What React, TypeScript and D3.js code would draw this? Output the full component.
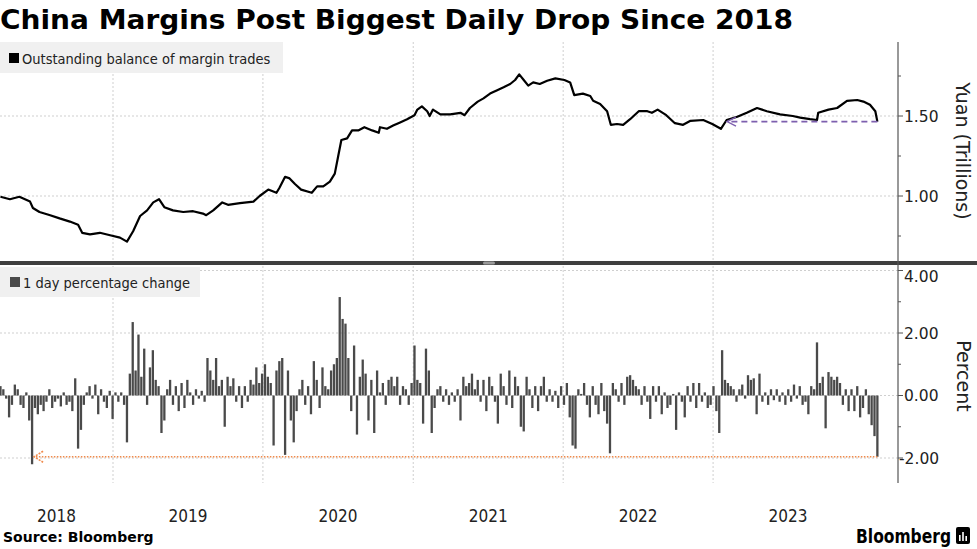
import React from 'react';
import * as d3 from 'd3';

// outstanding margin balance, trillion yuan
const balanceDates = [
  '2018-04-02', '2018-04-25', '2018-05-18', '2018-06-13', '2018-06-20', '2018-07-06', '2018-08-01', '2018-08-24',
  '2018-09-18', '2018-10-08', '2018-10-18', '2018-11-06', '2018-11-30', '2018-12-25', '2019-01-18', '2019-02-04',
  '2019-02-19', '2019-03-08', '2019-03-25', '2019-04-09', '2019-04-23', '2019-05-06', '2019-05-27', '2019-06-21',
  '2019-07-15', '2019-08-08', '2019-08-16', '2019-09-02', '2019-09-24', '2019-10-08', '2019-11-06', '2019-12-09',
  '2019-12-24', '2020-01-14', '2020-02-03', '2020-02-10', '2020-02-24', '2020-03-06', '2020-03-19', '2020-04-03',
  '2020-04-29', '2020-05-12', '2020-05-27', '2020-06-12', '2020-06-24', '2020-07-02', '2020-07-10', '2020-07-24',
  '2020-08-05', '2020-08-20', '2020-09-04', '2020-09-23', '2020-10-09', '2020-10-12', '2020-10-29', '2020-11-13',
  '2020-11-30', '2020-12-17', '2021-01-04', '2021-01-11', '2021-01-22', '2021-02-04', '2021-02-10', '2021-02-18',
  '2021-03-08', '2021-04-01', '2021-04-26', '2021-05-06', '2021-05-19', '2021-06-07', '2021-06-21', '2021-07-07',
  '2021-07-23', '2021-08-09', '2021-08-25', '2021-09-06', '2021-09-16', '2021-09-27', '2021-10-08', '2021-10-20',
  '2021-11-05', '2021-11-23', '2021-12-13', '2022-01-04', '2022-01-18', '2022-01-28', '2022-02-18', '2022-03-08',
  '2022-03-15', '2022-04-01', '2022-04-18', '2022-04-27', '2022-05-12', '2022-05-27', '2022-06-13', '2022-07-04',
  '2022-07-25', '2022-08-05', '2022-08-19', '2022-09-09', '2022-09-30', '2022-10-20', '2022-11-07', '2022-12-08',
  '2022-12-30', '2023-01-20', '2023-02-03', '2023-03-01', '2023-03-24', '2023-04-18', '2023-05-12', '2023-06-13',
  '2023-07-14', '2023-08-01', '2023-08-25', '2023-09-11', '2023-09-14', '2023-10-09', '2023-10-30', '2023-11-23',
  '2023-12-18', '2024-01-02', '2024-01-18', '2024-01-31', '2024-02-05',
];
const balanceValues = [
  0.995, 0.98, 0.995, 0.965, 0.925, 0.9, 0.88, 0.86,
  0.84, 0.82, 0.77, 0.76, 0.77, 0.755, 0.74, 0.715,
  0.78, 0.875, 0.91, 0.96, 0.98, 0.93, 0.91, 0.9,
  0.905, 0.89, 0.88, 0.91, 0.96, 0.945, 0.955, 0.965,
  1.0, 1.04, 1.02, 1.05, 1.12, 1.11, 1.075, 1.04,
  1.02, 1.06, 1.06, 1.09, 1.14, 1.245, 1.35, 1.36,
  1.41, 1.41, 1.43, 1.41, 1.395, 1.43, 1.42, 1.44,
  1.46, 1.48, 1.505, 1.54, 1.56, 1.53, 1.5, 1.54,
  1.51, 1.51, 1.52, 1.505, 1.55, 1.59, 1.61, 1.64,
  1.66, 1.68, 1.7, 1.725, 1.76, 1.725, 1.69, 1.71,
  1.7, 1.72, 1.735, 1.725, 1.71, 1.63, 1.64, 1.625,
  1.595, 1.575, 1.53, 1.445, 1.45, 1.445, 1.48, 1.53,
  1.53, 1.52, 1.54, 1.505, 1.455, 1.445, 1.47, 1.475,
  1.45, 1.42, 1.475, 1.495, 1.52, 1.55, 1.53, 1.51,
  1.5, 1.49, 1.48, 1.475, 1.52, 1.54, 1.55, 1.595,
  1.6, 1.59, 1.57, 1.53, 1.465,
];

// 1 day percentage change, one reading per week from the first date
const changeStart = '2018-04-02';
const changeValues = [
  0.3, 0.2, -0.1, -0.7, -0.3, 0.35, 0.2, -0.3, -0.4, 0.1,
  -0.8, -2.2, -0.4, -0.6, -0.3, -0.5, -0.2, 0.2, -0.4, -0.2,
  -0.1, -0.35, 0.1, -0.3, -0.2, -0.5, 0.55, -1.7, -1.1, -0.3,
  0.1, 0.3, -0.1, 0.35, -0.6, 0.2, -0.2, -0.4, 0.15, -0.75,
  0.1, -0.2, 0.1, -0.3, -1.5, 0.7, 2.35, 0.8, 1.95, 0.6,
  1.5, -0.3, 0.9, 1.45, 0.5, 0.3, -1.2, -0.8, 0.2, 0.5,
  -0.3, 0.3, -0.5, 0.4, -0.4, 0.5, 0.1, -0.3, 0.2, -0.1,
  0.15, -0.2, 1.2, 0.8, 0.5, 1.2, 0.3, 0.5, -1.0, 0.6,
  0.3, 0.55, -0.2, 0.3, -0.4, 0.3, -0.2, 0.5, 0.35, 0.9,
  0.4, 0.7, 1.0, 0.6, 0.4, -1.6, 0.8, 1.1, 1.2, -1.9,
  0.8, -0.8, -1.5, -0.5, 0.2, 0.5, -0.3, 0.3, -0.6, 1.1,
  0.5, -0.4, 0.9, 0.3, 0.2, 0.8, 1.0, 1.2, 3.15, 2.45,
  2.3, 1.2, -0.5, 1.6, -1.25, 0.6, 1.15, 0.7, -0.8, 0.5,
  -1.2, 0.8, 0.1, 0.4, -0.3, 0.5, 0.6, 0.3, 0.6, -0.3,
  0.3, 0.2, -0.3, 0.4, 1.6, 0.5, 0.4, -0.9, 1.5, 0.8,
  -1.2, -0.4, 0.2, 0.3, -0.2, 0.2, -0.3, 0.1, -0.2, 0.2,
  -0.8, 0.6, 0.3, 0.4, 0.7, 0.2, 0.5, -0.2, 0.5, -0.5,
  0.6, 0.3, -0.2, -0.9, 0.7, 0.3, -0.3, 0.8, -0.4, 0.6,
  0.3, -1.0, -1.15, 0.6, 0.2, -0.4, 0.3, -0.5, 0.3, 0.6,
  -0.2, 0.2, -0.2, 0.15, -0.4, 0.3, -0.3, 0.4, -0.7, -1.6,
  -1.7, 0.2, 0.05, 0.4, -0.3, -0.7, 0.3, -0.3, -0.6, 0.4,
  -0.5, -0.9, -1.85, 0.4, 0.2, -0.2, 0.4, -0.3, 0.6, 0.65,
  0.5, 0.3, 0.2, -0.3, 0.3, -0.2, -0.75, 0.3, -0.2, 0.3,
  -0.6, 0.1, -0.4, -0.3, 0.05, -1.1, 0.1, -0.2, -0.7, 0.3,
  -0.2, 0.4, -0.4, 0.4, -0.2, 0.1, -0.4, -0.3, 0.3, -0.5,
  -1.2, 1.45, 0.5, 0.4, 0.3, 0.2, -0.2, 0.2, 0.35, -0.1,
  0.65, 0.5, 0.55, -0.6, 0.7, -0.2, 0.1, -0.3, 0.2, -0.15,
  0.2, -0.2, 0.1, -0.3, 0.2, -0.2, 0.35, -0.1, 0.3, -0.3,
  -0.2, -0.6, 0.3, 0.2, 1.7, 0.4, 0.6, -1.05, 0.75, 0.6,
  0.5, 0.6, 0.4, -0.3, 0.2, -0.5, 0.2, -0.5, 0.3, -0.7,
  -0.4, 0.2, -0.6, -0.95, -1.3, -1.96,
];

const yearLabels = ['2018', '2019', '2020', '2021', '2022', '2023'];
const balanceTicks = [1.0, 1.5];
const balanceMinorTicks = [0.75, 1.25, 1.75];
const changeTicks = [4, 2, 0, -2];
const changeMinorTicks = [3, 1, -1];

const W = 977;
const H = 549;
const AXIS_X = 898;
const SANS = "'DejaVu Sans', sans-serif";
const COND = "'DejaVu Sans Condensed', 'DejaVu Sans', sans-serif";

const parse = d3.timeParse('%Y-%m-%d');

const App = () => {
  const x = d3.scaleTime()
    .domain([new Date(2019, 0, 1), new Date(2024, 0, 1)])
    .range([113, 863]);
  const yTop = d3.scaleLinear().domain([0.5875, 1.9625]).range([262, 42]);
  const yBot = d3.scaleLinear().domain([-2.8, 4]).range([483, 270.5]);

  const balance = balanceDates.map((d, i) => [parse(d) as Date, balanceValues[i]] as [Date, number]);
  const start = parse(changeStart) as Date;
  const changes = changeValues.map((v, i) => ({ date: d3.timeDay.offset(start, i * 7), value: v }));

  const line = d3.line<[Date, number]>()
    .x(d => x(d[0]))
    .y(d => yTop(d[1]))
    .curve(d3.curveLinear);

  const yearBounds = d3.range(2019, 2024).map(y => x(new Date(y, 0, 1)));
  const lastBalance = balance[balance.length - 1];
  const lastChange = changes[changes.length - 1];
  const bigDrop = changes[d3.minIndex(changes, d => d.value)];
  const dropY = yBot(lastChange.value);
  const dropX = x(bigDrop.date);
  const balY = yTop(lastBalance[1]);

  const grid = { stroke: '#cfcfcf', strokeWidth: 1, strokeDasharray: '2,2' };
  const tickText = { fontFamily: SANS, fontSize: 15.5, fill: '#222' };

  return (
    <svg width={W} height={H} style={{ position: 'absolute', left: 0, top: 0, background: '#fff' }}>
      <text x={0} y={29} fontFamily={SANS} fontWeight="bold" fontSize={26}
        textLength={793} lengthAdjust="spacingAndGlyphs" fill="#000">
        China Margins Post Biggest Daily Drop Since 2018
      </text>

      {/* vertical year gridlines through both panels */}
      {yearBounds.map((bx, i) => (
        <line key={i} x1={bx} x2={bx} y1={42} y2={483} {...grid} />
      ))}

      {/* upper panel */}
      {balanceTicks.map(t => (
        <line key={t} x1={0} x2={AXIS_X} y1={yTop(t)} y2={yTop(t)} {...grid} />
      ))}
      <rect x={0} y={42} width={283} height={31} fill="#f0f0f0" />
      <rect x={9} y={53} width={10} height={10} fill="#000" />
      <text x={22} y={63.5} fontFamily={COND} fontSize={14.5} fill="#222">Outstanding balance of margin trades</text>
      <path d={line(balance) || ''} fill="none" stroke="#000" strokeWidth={2.2} strokeLinejoin="round" />

      {/* purple arrow back to the prior level */}
      <line x1={x(lastBalance[0])} x2={731} y1={balY} y2={balY}
        stroke="#7d5fae" strokeWidth={1.6} strokeDasharray="6,4" />
      <path d={`M736,${balY - 4.5}L727,${balY}L736,${balY + 4.5}`}
        fill="none" stroke="#7d5fae" strokeWidth={1.4} />

      {/* lower panel */}
      {changeTicks.map(t => (
        <line key={t} x1={0} x2={AXIS_X} y1={yBot(t)} y2={yBot(t)} {...grid} />
      ))}
      <rect x={0} y={267} width={200} height={30} fill="#f0f0f0" />
      <rect x={10} y={277} width={10} height={10} fill="#4a4a4a" />
      <text x={23} y={287.5} fontFamily={COND} fontSize={14.5} fill="#222">1 day percentage change</text>
      {changes.map((d, i) => (
        <rect key={i} x={x(d.date) - 1.15} width={2.3}
          y={Math.min(yBot(0), yBot(d.value))}
          height={Math.max(0.8, Math.abs(yBot(d.value) - yBot(0)))} fill="#4a4a4a" />
      ))}

      {/* orange dotted arrow back to the 2018 drop */}
      <line x1={x(lastChange.date)} x2={dropX + 2} y1={dropY} y2={dropY}
        stroke="#f08a4b" strokeWidth={1.6} strokeDasharray="1.5,1.5" />
      <path d={`M${dropX + 11},${dropY - 5.5}L${dropX + 2},${dropY}L${dropX + 11},${dropY + 5.5}`}
        fill="none" stroke="#f08a4b" strokeWidth={1.6} strokeDasharray="2,1.2" />

      {/* panel divider */}
      <rect x={0} y={261} width={W} height={4} fill="#3f3f3f" />
      <rect x={483} y={261.5} width={12} height={3} rx={1.5} fill="#9a9a9a" />

      {/* right axis */}
      <line x1={AXIS_X} x2={AXIS_X} y1={42} y2={483} stroke="#555" strokeWidth={1.2} />
      {balanceTicks.map(t => (
        <g key={t}>
          <line x1={AXIS_X} x2={AXIS_X + 5} y1={yTop(t)} y2={yTop(t)} stroke="#555" />
          <text x={AXIS_X + 6} y={yTop(t)} dy="0.36em" {...tickText}>{t.toFixed(2)}</text>
        </g>
      ))}
      {balanceMinorTicks.map(t => (
        <line key={t} x1={AXIS_X} x2={AXIS_X + 3} y1={yTop(t)} y2={yTop(t)} stroke="#555" />
      ))}
      {changeTicks.map(t => (
        <g key={t}>
          <line x1={AXIS_X} x2={AXIS_X + 5} y1={yBot(t)} y2={yBot(t)} stroke="#555" />
          <text x={AXIS_X + (t < 0 ? 1 : 6)} y={yBot(t) + (t === 4 ? 6 : 0)} dy="0.36em" {...tickText}>
            {t.toFixed(2)}
          </text>
        </g>
      ))}
      {changeMinorTicks.map(t => (
        <line key={t} x1={AXIS_X} x2={AXIS_X + 3} y1={yBot(t)} y2={yBot(t)} stroke="#555" />
      ))}
      <text transform="translate(956,151) rotate(90)" textAnchor="middle" fontFamily={SANS} fontSize={19} fill="#222">
        Yuan (Trillions)
      </text>
      <text transform="translate(957,376) rotate(90)" textAnchor="middle" fontFamily={SANS} fontSize={19} fill="#222">
        Percent
      </text>

      {/* year labels centred on the visible part of each year */}
      {yearLabels.map(label => {
        const a = Math.max(0, x(new Date(+label, 0, 1)));
        const b = x(new Date(+label + 1, 0, 1));
        return (
          <text key={label} x={(a + b) / 2} y={522} textAnchor="middle" fontFamily={COND} fontSize={17} fill="#222">
            {label}
          </text>
        );
      })}

      <text x={3} y={542} fontFamily={SANS} fontWeight="bold" fontSize={14} fill="#000">Source: Bloomberg</text>
      <text x={951} y={543} textAnchor="end" fontFamily={COND} fontWeight="bold" fontSize={19} fill="#000"
        textLength={95} lengthAdjust="spacingAndGlyphs">Bloomberg</text>
      <g transform="translate(956,527)">
        <rect width={14} height={17} rx={2} fill="#000" />
        <rect x={3} y={8} width={1.6} height={6} fill="#fff" />
        <rect x={6.2} y={5} width={1.6} height={9} fill="#fff" />
        <rect x={9.4} y={9} width={1.6} height={5} fill="#fff" />
      </g>
    </svg>
  );
};

export default App;
